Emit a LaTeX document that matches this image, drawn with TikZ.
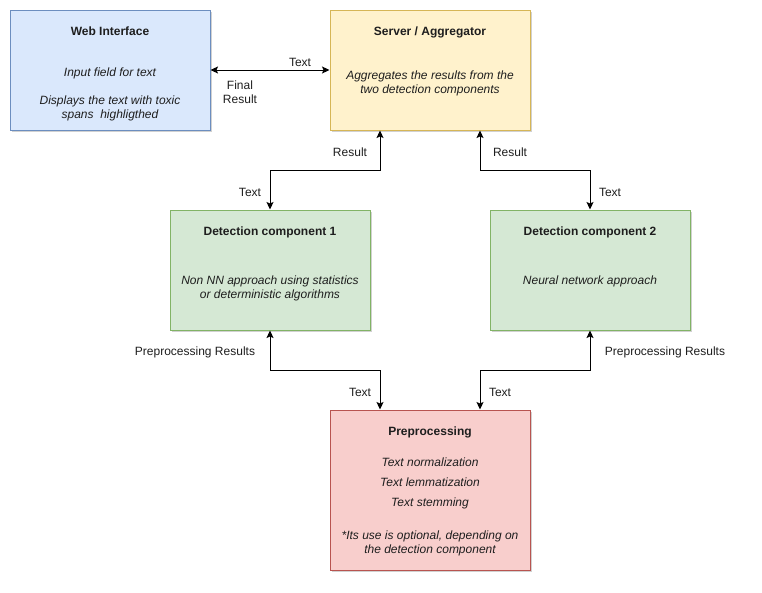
\documentclass[tikz,border=0pt]{standalone}
\usepackage{fontspec}
\setmainfont{Liberation Sans}
\usepackage{xcolor}
\usetikzlibrary{arrows.meta,shadows}
\definecolor{webfill}{RGB}{218, 232, 252}
\definecolor{webline}{RGB}{108, 142, 191}
\definecolor{srvfill}{RGB}{255, 242, 204}
\definecolor{srvline}{RGB}{214, 182, 86}
\definecolor{detfill}{RGB}{213, 232, 212}
\definecolor{detline}{RGB}{130, 179, 102}
\definecolor{prepfill}{RGB}{248, 206, 204}
\definecolor{prepline}{RGB}{184, 84, 80}
\definecolor{txt}{RGB}{30, 30, 30}

\tikzset{
  box/.style={draw, line width=1pt, inner sep=0pt, minimum width=200pt, minimum height=120pt,
    drop shadow={shadow xshift=2pt, shadow yshift=-2pt, opacity=0.18, fill=black}},
  title/.style={font=\fontsize{12}{14}\selectfont\bfseries, text=txt, text height=9pt, text depth=2.5pt},
  body/.style={font=\fontsize{12}{14}\selectfont\itshape, text=txt, align=center, inner sep=0pt},
  lbl/.style={font=\fontsize{12}{14}\selectfont, text=txt, align=center, inner sep=0pt},
  link/.style={line width=1pt, {Stealth[length=7.5pt,width=7pt,inset=1.5pt]}-{Stealth[length=7.5pt,width=7pt,inset=1.5pt]}}
}

\begin{document}
\begin{tikzpicture}[x=1pt, y=-1pt]
      \useasboundingbox (0,0) rectangle (762,592);
      % boxes
      \node[box, fill=webfill, draw=webline] (web) at (110, 70) {};
      \node[box, fill=srvfill, draw=srvline] (server) at (430, 70) {};
      \node[box, fill=detfill, draw=detline] (detone) at (270, 270) {};
      \node[box, fill=detfill, draw=detline] (dettwo) at (590, 270) {};
      \node[box, fill=prepfill, draw=prepline, minimum height=160pt] (prep) at (430, 490) {};

      % box texts
      \node[title] (webtitle) at ([yshift=-22.5pt]web.north) {Web Interface};
      \node[body] (webbody) at (110, 94) {Input field for text\\[14pt]Displays the text with toxic\\spans\ \ highligthed};
      \node[title] (servertitle) at ([yshift=-22.5pt]server.north) {Server / Aggregator};
      \node[body] (serverbody) at (430, 83.5) {Aggregates the results from the\\two detection components};
      \node[title] (detonetitle) at ([yshift=-22.5pt]detone.north) {Detection component 1};
      \node[body] (detonebody) at (270, 288.5) {Non NN approach using statistics\\or deterministic algorithms};
      \node[title] (dettwotitle) at ([yshift=-22.5pt]dettwo.north) {Detection component 2};
      \node[body] (dettwobody) at (590, 281.5) {Neural network approach};
      \node[title] (preptitle) at ([yshift=-22.5pt]prep.north) {Preprocessing};
      \node[body] (prepbody) at (430, 506.5) {Text normalization\\[6pt]Text lemmatization\\[6pt]Text stemming\\[19pt]*Its use is optional, depending on\\the detection component};

      % connectors
      \draw[link] (web.east) -- (server.west);
      \draw[link] ([xshift=-50pt]server.south) -- ++(0,40) -| (detone.north);
      \draw[link] ([xshift=50pt]server.south) -- ++(0,40) -| (dettwo.north);
      \draw[link] (detone.south) -- ++(0,40) -| ([xshift=-50pt]prep.north);
      \draw[link] (dettwo.south) -- ++(0,40) -| ([xshift=50pt]prep.north);

      % connector labels
      \node[lbl] (lbltext) at (300, 62) {Text};
      \node[lbl] (lblfinal) at (240, 92) {Final\\Result};
      \node[lbl] (lblresone) at (350, 152) {Result};
      \node[lbl] (lbltextone) at (250, 192) {Text};
      \node[lbl] (lblrestwo) at (510, 152) {Result};
      \node[lbl] (lbltexttwo) at (610, 192) {Text};
      \node[lbl] (lblprepone) at (195, 352) {Preprocessing Results};
      \node[lbl] (lblpreptwo) at (665, 352) {Preprocessing Results};
      \node[lbl] (lbltextthree) at (360, 392) {Text};
      \node[lbl] (lbltextfour) at (500, 392) {Text};
\end{tikzpicture}
\end{document}
